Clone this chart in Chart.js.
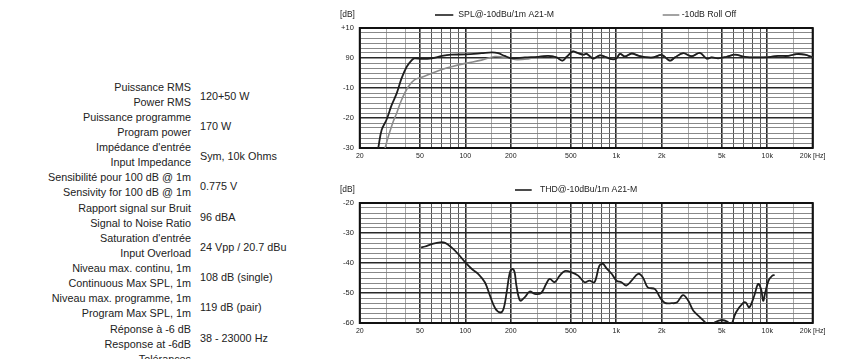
<!DOCTYPE html>
<html><head><meta charset="utf-8">
<script src="https://cdn.jsdelivr.net/npm/chart.js@4.4.1/dist/chart.umd.min.js"></script>
<style>
html,body{margin:0;padding:0;background:#fff;width:862px;height:359px;overflow:hidden;}
#specs{position:absolute;left:0;top:0;width:330px;height:359px;font-family:"Liberation Sans",Arial,sans-serif;font-size:10.8px;color:#222;}
.row{position:absolute;left:0;width:330px;height:30px;}
.lab{position:absolute;right:139px;top:0;text-align:right;line-height:15px;white-space:nowrap;}
.val{position:absolute;left:200px;top:1px;line-height:30px;white-space:nowrap;}
canvas{position:absolute;}
</style></head>
<body>
<div id="specs"></div>
<canvas id="c1" width="500" height="175" style="left:330px;top:0px;width:500px;height:175px"></canvas>
<canvas id="c2" width="500" height="175" style="left:330px;top:175px;width:500px;height:175px"></canvas>
<script>
// ---------- spec table ----------
const specFr = ["Puissance RMS","Puissance programme","Impédance d'entrée","Sensibilité pour 100 dB @ 1m","Rapport signal sur Bruit","Saturation d'entrée","Niveau max. continu, 1m","Niveau max. programme, 1m","Réponse à -6 dB","Tolérances"];
const specEn = ["Power RMS","Program power","Input Impedance","Sensivity for 100 dB @ 1m","Signal to Noise Ratio","Input Overload","Continuous Max SPL, 1m","Program Max SPL, 1m","Response at -6dB","Tolerances"];
const specVal = ["120+50 W","170 W","Sym, 10k Ohms","0.775 V","96 dBA","24 Vpp / 20.7 dBu","108 dB (single)","119 dB (pair)","38 - 23000 Hz",""];

// ---------- frequency response (top chart) ----------
const splFreq = [26.5,27.9,30.1,32.5,35.1,37.8,40.9,44.2,46,51.5,60,70,81,100,128,150,165,182,203,248,304,354,403,439,469,516,546,604,637,703,780,863,932,1000,1058,1140,1264,1397,1548,1758,2000,2265,2446,2775,3154,3582,3966,4276,4732,5380,6110,7114,8280,10200,11800,13800,15600,17800,20000];
const splDb   = [-30,-24,-20.5,-15.7,-11.8,-6.8,-2.9,-0.7,-0.1,-0.3,-0.1,0.7,1.1,1.2,1.6,1.9,1.6,0.7,-0.1,0.2,0.4,0.7,0.2,-0.9,0.4,2.2,1.8,1.1,1.4,-0.2,0.9,0.2,-0.4,-0.2,1.4,0.5,1.5,0.8,0.3,0.2,1.0,-0.9,0.2,1.6,0.6,1.7,-0.2,0.2,-0.1,0.4,1.1,0.4,0.2,0.3,0.7,0.7,1.3,1.1,0.2];
const rollFreq = [29.4,30.9,33.3,35.1,37.8,41.9,46,51.5,60,70,81,100,128,157,193,220,260,304,354,403,439,469,516,546,604,637,703,780,863,932,1000,1058,1140,1264,1397,1548,1758,2000,2265,2446,2775,3154,3582,3966,4276,4732,5380,6110,7114,8280,10200,11800,13800,15600,17800,20000];
const rollDb   = [-30,-26.2,-21.2,-18.4,-14,-9.6,-7.3,-6.4,-5.1,-3.8,-2.9,-1.8,-0.7,0.5,0.0,-0.6,-0.3,0.4,0.7,0.2,-0.9,0.4,2.2,1.8,1.1,1.4,-0.2,0.9,0.2,-0.4,-0.2,1.4,0.5,1.5,0.8,0.3,0.2,1.0,-0.9,0.2,1.6,0.6,1.7,-0.2,0.2,-0.1,0.4,1.1,0.4,0.2,0.3,0.7,0.7,1.3,1.1,0.2];

// ---------- distortion (bottom chart) ----------
const thdFreq = [50.9,54.1,60,68.1,73.5,81,89.6,100,110.5,122,135,145.7,157.6,170.4,179,187.8,197,205,212,218,230.5,248,267,288,318,343,362,391,422,455,506,559,616,664,717,773,817,862,932,1004,1082,1165,1262,1396,1500,1615,1805,1950,2100,2325,2515,2770,3000,3240,3590,3880,4200,4500,4980,5460,5740,6200,6900,7200,7600,8200,8700,9100,9400,9700,10200,10800,11200];
const thdDb   = [-34.8,-34.5,-33.7,-33.1,-33.3,-34.8,-37,-39.8,-42,-43.7,-46.5,-50.9,-55.1,-56.5,-55.3,-49.8,-43.3,-42.0,-43.1,-47.5,-52.5,-51.4,-49.5,-50.3,-50,-47,-45.3,-46.4,-44.2,-42.7,-43.1,-44.2,-46.4,-45.9,-46.4,-40.9,-40.3,-41.8,-43.6,-45.9,-46.4,-47.5,-45.9,-43.6,-44.8,-48.1,-48.7,-51.5,-53.3,-53.4,-53.2,-50.7,-52.6,-55.9,-58.1,-59.8,-61,-59.8,-59,-59.6,-60.8,-56.5,-53.4,-53.2,-54.8,-50.9,-47,-48.7,-52.6,-49.8,-45.9,-44.2,-44];

// ---------- axes ----------
const xGridValues = [20,30,40,50,60,70,80,90,100,150,200,300,400,500,600,700,800,900,1000,1500,2000,3000,4000,5000,6000,7000,8000,9000,10000,15000,20000];
const xLabelValues = [20,50,100,200,500,1000,2000,5000,10000,20000];
const xLabelTexts  = ['20','50','100','200','500','1k','2k','5k','10k','20k [Hz]'];
const yTopValues = [10,0,-10,-20,-30];
const yTopLabels = ['+10','90','-10','-20','-30'];
const yBotValues = [-20,-30,-40,-50,-60];
const yBotLabels = ['-20','-30','-40','-50','-60'];

// build spec rows
const specs = document.getElementById('specs');
specFr.forEach((fr, i) => {
  const r = document.createElement('div');
  r.className = 'row';
  r.style.top = (79.5 + 30.25 * i) + 'px';
  r.innerHTML = '<div class="lab">' + fr + '<br>' + specEn[i] + '</div><div class="val">' + specVal[i] + '</div>';
  specs.appendChild(r);
});

const FONT = '"Liberation Sans", Arial, sans-serif';
const pts = (xs, ys) => xs.map((x, i) => ({x: x, y: ys[i]}));

function xGridStyle(v) {
  const m = v / Math.pow(10, Math.floor(Math.log10(v) + 1e-9));
  const mm = Math.round(m * 10) / 10;
  if (mm === 1 || mm === 2 || mm === 5) return {c: '#2a2a2a', w: 1.6};
  if (mm === 1.5 || mm === 3 || mm === 4) return {c: '#a8a8a8', w: 1};
  return {c: '#555', w: 1};
}
function isMajorY(v) { return Math.abs(v / 10 - Math.round(v / 10)) < 1e-6; }

const frame = {
  id: 'frame',
  beforeDatasetsDraw(chart) {
    const a = chart.chartArea, ctx = chart.ctx;
    ctx.save(); ctx.strokeStyle = '#111'; ctx.lineWidth = 2;
    ctx.strokeRect(a.left, a.top, a.right - a.left, a.bottom - a.top);
    ctx.restore();
  },
  afterDraw(chart, args, opts) {
    const ctx = chart.ctx;
    ctx.save();
    ctx.textBaseline = 'middle';
    ctx.fillStyle = '#222';
    ctx.font = '8.4px ' + FONT;
    ctx.fillText('[dB]', 10, 15);
    ctx.font = '8.7px ' + FONT;
    (opts.items || []).forEach(it => {
      ctx.strokeStyle = it.color; ctx.lineWidth = 1.6;
      ctx.beginPath(); ctx.moveTo(it.x0, 15); ctx.lineTo(it.x1, 15); ctx.stroke();
      ctx.fillStyle = '#222';
      ctx.fillText(it.label, it.tx, 15);
    });
    ctx.restore();
  }
};

function makeChart(id, datasets, yMin, yMax, yVals, yLabs, legendItems) {
  return new Chart(document.getElementById(id), {
    type: 'line',
    data: { datasets: datasets },
    plugins: [frame],
    options: {
      responsive: false, animation: false, devicePixelRatio: 1,
      layout: { padding: { left: 0, top: 28, right: 17.3, bottom: 0 } },
      elements: { point: { radius: 0 }, line: { tension: 0.35 } },
      plugins: { legend: { display: false }, tooltip: { enabled: false }, frame: { items: legendItems } },
      scales: {
        x: {
          type: 'logarithmic', min: 20, max: 20000,
          afterBuildTicks: s => { s.ticks = xGridValues.map(v => ({value: v})); },
          afterFit: s => { s.height = 27; },
          border: { display: false },
          grid: { drawTicks: false, color: c => xGridStyle(c.tick.value).c, lineWidth: c => xGridStyle(c.tick.value).w },
          ticks: { autoSkip: false, maxRotation: 0, padding: 4, color: '#222', font: { family: FONT, size: 7 },
            callback: v => { const i = xLabelValues.indexOf(v); return i >= 0 ? xLabelTexts[i] : ''; } }
        },
        y: {
          type: 'linear', min: yMin, max: yMax,
          afterBuildTicks: s => { const t = []; for (let k = 0; k <= 24; k++) t.push({value: yMin + k * (yMax - yMin) / 24}); s.ticks = t; },
          afterFit: s => { s.width = 29.8; },
          border: { display: false },
          grid: { drawTicks: false, color: c => isMajorY(c.tick.value) ? '#2a2a2a' : '#7a7a7a', lineWidth: c => isMajorY(c.tick.value) ? 1.6 : 0.9 },
          ticks: { autoSkip: false, padding: 6, color: '#222', font: { family: FONT, size: 7.5 },
            callback: v => { const i = yVals.findIndex(t => Math.abs(t - v) < 1e-6); return i >= 0 ? yLabs[i] : ''; } }
        }
      }
    }
  });
}

makeChart('c1', [
  { label: 'SPL@-10dBu/1m A21-M', data: pts(splFreq, splDb), borderColor: '#1e1e1e', borderWidth: 1.8, clip: 0, order: 0 },
  { label: '-10dB Roll Off', data: pts(rollFreq, rollDb), borderColor: '#8c8c8c', borderWidth: 1.6, clip: 0, order: 1 }
], -30, 10, yTopValues, yTopLabels, [
  { label: 'SPL@-10dBu/1m A21-M', color: '#1e1e1e', x0: 105, x1: 123.3, tx: 128.3 },
  { label: '-10dB Roll Off', color: '#8c8c8c', x0: 332.7, x1: 349.3, tx: 351.7 }
]);

makeChart('c2', [
  { label: 'THD@-10dBu/1m A21-M', data: pts(thdFreq, thdDb), borderColor: '#1e1e1e', borderWidth: 1.8, clip: 0 }
], -60, -20, yBotValues, yBotLabels, [
  { label: 'THD@-10dBu/1m A21-M', color: '#1e1e1e', x0: 185, x1: 201.7, tx: 210 }
]);
</script>
</body></html>
